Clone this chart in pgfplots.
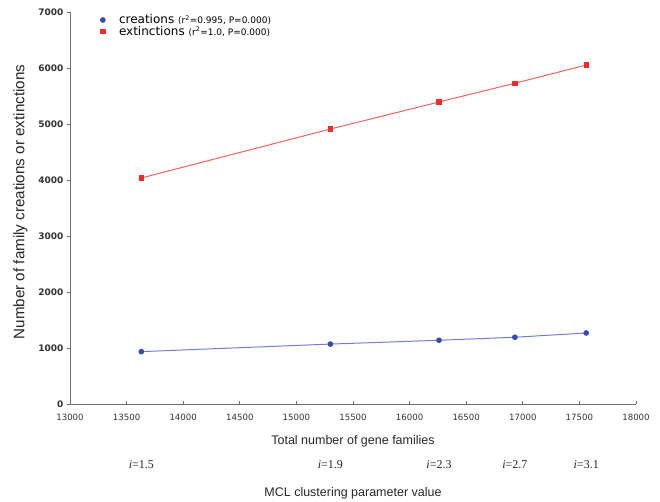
\documentclass[border=0pt]{standalone}
\usepackage{pgfplots}
\pgfplotsset{compat=1.18}
\usepackage{fontspec}
\setmainfont{Liberation Sans}
\newfontfamily\tickfont{DejaVu Sans}
\newfontfamily\seriffont{Liberation Serif}
\usetikzlibrary{calc}
\definecolor{cblue}{RGB}{55,75,170}
\definecolor{cbluel}{RGB}{115,125,215}
\definecolor{cred}{RGB}{235,45,45}
\definecolor{credl}{RGB}{250,95,95}
\definecolor{axgray}{RGB}{110,110,110}
\tikzset{ilab/.style={font=\seriffont\fontsize{12bp}{14bp}\selectfont, text=black!85, yshift=-61bp}}
\begin{document}
\begin{tikzpicture}[x=1bp,y=1bp]
\begin{axis}[
  name=ax,
  scale only axis,
  width=566bp, height=392bp,
  xmin=13000, xmax=18000, ymin=0, ymax=7000,
  xtick={13000,13500,...,18000},
  ytick={0,1000,...,7000},
  scaled ticks=false,
  axis lines=left,
  axis line style={-, axgray, line width=0.9pt},
  tick style={axgray, line width=0.7pt},
  xtick align=inside,
  ytick align=outside,
  major tick length=3bp,
  /pgf/number format/1000 sep={},
  /pgf/number format/assume math mode=true,
  ticklabel style={text=black!80},
  xticklabel style={yshift=-7bp, font=\tickfont\fontsize{8.6bp}{10bp}\selectfont},
  yticklabel style={font=\tickfont\bfseries\fontsize{9bp}{10bp}\selectfont},
  xlabel={Total number of gene families},
  ylabel={Number of family creations or extinctions},
  label style={text=black!85},
  xlabel style={yshift=-8bp, font=\fontsize{12.5bp}{14bp}\selectfont},
  ylabel style={yshift=4bp, xshift=6bp, font=\fontsize{15.2bp}{17bp}\selectfont},
  legend image code/.code={\path (0cm,0cm) (0.8cm,0cm); \draw[#1, draw=none] plot coordinates {(0.3cm,0cm)};},
  legend style={at={(0.040,1.0)}, anchor=north west, draw=none, fill=none,
    font=\tickfont\fontsize{12bp}{13bp}\selectfont, row sep=-2bp, inner sep=1bp,
    nodes={inner sep=1.5bp}},
  legend cell align=left,
  clip=false,
]
\addplot[cbluel, line width=1pt, mark=*, mark size=2.3bp, mark options={fill=cblue, draw=cblue}]
  coordinates {(13630,935) (15300,1070) (16260,1138) (16930,1192) (17560,1268)};
\addlegendentry{creations {\fontsize{9bp}{10bp}\selectfont (r\textsuperscript{2}=0.995, P=0.000)}}
\addplot[credl, line width=1pt, mark=square*, mark size=2.2bp, mark options={fill=cred, draw=cred}]
  coordinates {(13630,4036) (15300,4910) (16260,5393) (16930,5728) (17560,6052)};
\addlegendentry{extinctions {\fontsize{9bp}{10bp}\selectfont (r\textsuperscript{2}=1.0, P=0.000)}}
\node[ilab] at (axis cs:13630,0) {\textit{i}=1.5};
\node[ilab] at (axis cs:15300,0) {\textit{i}=1.9};
\node[ilab] at (axis cs:16260,0) {\textit{i}=2.3};
\node[ilab] at (axis cs:16930,0) {\textit{i}=2.7};
\node[ilab] at (axis cs:17560,0) {\textit{i}=3.1};
\node[font=\fontsize{12.5bp}{14bp}\selectfont, text=black!85, yshift=-89bp] at (axis cs:15500,0) {MCL clustering parameter value};
\end{axis}
\pgfresetboundingbox
\path[use as bounding box] ($(ax.south west)+(-70bp,-98bp)$) rectangle ($(ax.north east)+(24bp,12bp)$);
\end{tikzpicture}
\end{document}
